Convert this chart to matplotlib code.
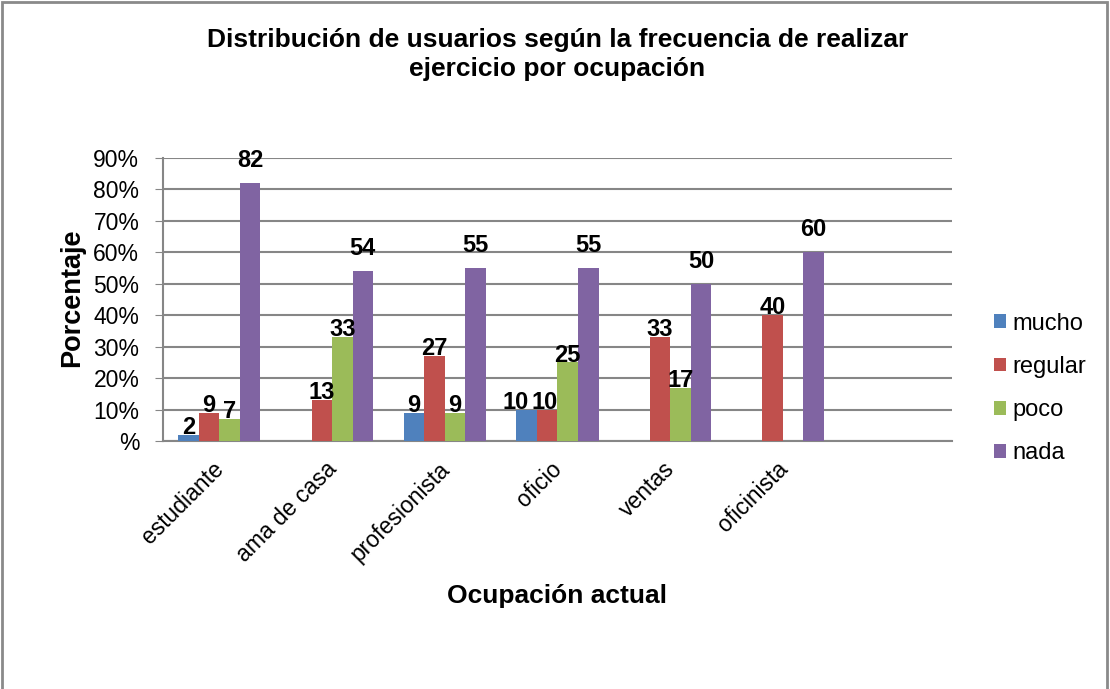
import numpy as np
import matplotlib.pyplot as plt
from matplotlib.patches import Rectangle
from matplotlib.transforms import ScaledTranslation

plt.rcParams['font.family'] = ['Liberation Sans', 'DejaVu Sans']

# Datos (porcentaje), nan = sin barra
ocupaciones = ['estudiante', 'ama de casa', 'profesionista', 'oficio', 'ventas', 'oficinista', '']
mucho = [2, np.nan, 9, 10, np.nan, np.nan, np.nan]
regular = [9, 13, 27, 10, 33, 40, np.nan]
poco = [7, 33, 9, 25, 17, np.nan, np.nan]
nada = [82, 54, 55, 55, 50, 60, np.nan]

series = ['mucho', 'regular', 'poco', 'nada']
colores = ['#4F81BD', '#C0504D', '#9BBB59', '#8064A2']
valores = [mucho, regular, poco, nada]

# separacion vertical de las etiquetas (puntos) y ajustes sueltos (serie, categoria) -> dx en puntos
sep_etiqueta = [-3, -3, -3, 8]
ajustes = {(0, 3): -8, (1, 3): -2}

fig = plt.figure(figsize=(11.1, 6.89), dpi=100)
ax = fig.add_axes([0.1468, 0.3599, 0.7109, 0.4108])

x = np.arange(len(ocupaciones))
ancho = 0.182
for i, (nombre, vals, c) in enumerate(zip(series, valores, colores)):
    pos = x + (i - 1.5) * ancho
    ax.bar(pos, vals, width=ancho, color=c, label=nombre, zorder=3)
    for j, (xb, v) in enumerate(zip(pos, vals)):
        if not np.isnan(v):
            ax.annotate('%d' % v, (xb, v), xytext=(ajustes.get((i, j), 0), sep_etiqueta[i]),
                        textcoords='offset points', ha='center', va='bottom',
                        fontsize=17, fontweight='bold', zorder=4)

ax.set_xlim(-0.5, len(ocupaciones) - 0.5)
ax.set_ylim(0, 90)
ax.set_yticks(np.arange(0, 91, 10))
ax.set_yticklabels(['%'] + ['%d%%' % t for t in range(10, 91, 10)], fontsize=16.5)
ax.set_xticks(x)
ax.set_xticklabels(ocupaciones, rotation=45, ha='right', va='top', rotation_mode='anchor', fontsize=16.5)
ax.tick_params(axis='x', length=0, pad=12)
ax.tick_params(axis='y', length=6, color='#868686', pad=11)
desplaza = ScaledTranslation(-5 / 72, 0, fig.dpi_scale_trans)
for lbl in ax.get_xticklabels():
    lbl.set_transform(lbl.get_transform() + desplaza)

ax.yaxis.grid(True, color='#868686', linewidth=1.5, zorder=0)
for s in ['top', 'right']:
    ax.spines[s].set_visible(False)
for s in ['left', 'bottom']:
    ax.spines[s].set_color('#868686')
    ax.spines[s].set_linewidth(1.5)

ax.set_ylabel('Porcentaje', fontsize=19.5, fontweight='bold', va='center')
ax.yaxis.set_label_coords(-0.115, 0.505)
ax.set_xlabel('Ocupación actual', fontsize=19, fontweight='bold', va='center')
ax.xaxis.set_label_coords(0.5, -0.548)

fig.text(0.502, 0.921, 'Distribución de usuarios según la frecuencia de realizar\nejercicio por ocupación',
         ha='center', va='center', fontsize=19, fontweight='bold', linespacing=1.25)

ax.legend(loc='center left', bbox_to_anchor=(0.876, 0.436), bbox_transform=fig.transFigure,
          frameon=False, fontsize=17, handlelength=0.52, handleheight=0.52,
          handletextpad=0.28, labelspacing=0.9, borderpad=0.4)

fig.patches.append(Rectangle((0.002, -0.01), 0.995, 1.007, transform=fig.transFigure,
                             fill=False, edgecolor='#8a8a8a', linewidth=2))

fig.savefig('out.png', dpi=100)
